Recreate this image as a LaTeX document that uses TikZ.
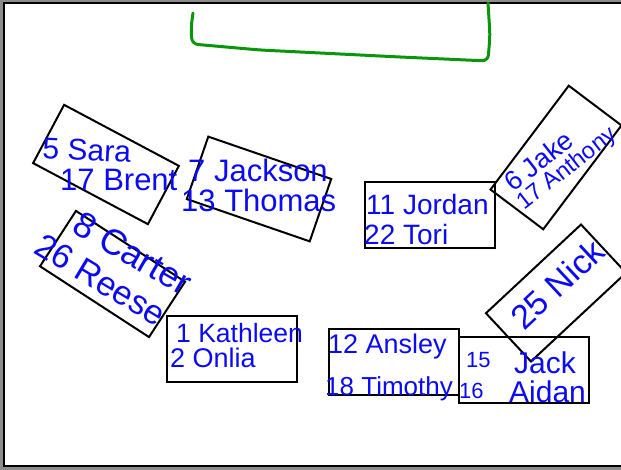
\documentclass[tikz,border=0pt]{standalone}
\usepackage{fontspec}
\setmainfont{Liberation Sans}
\usetikzlibrary{positioning}
\definecolor{Marker}{HTML}{0A0AF5}
\definecolor{Board}{HTML}{0A960A}
\definecolor{Shade}{HTML}{8C8C8C}
\newcommand{\hand}[1]{\fontsize{#1}{#1}\selectfont}

\begin{document}
\begin{tikzpicture}[x=1pt,y=-1pt,
    desk/.style={draw=black,line width=2pt,minimum width=130pt,minimum height=66pt,inner sep=0pt},
    kid/.style={anchor=base west,text=Marker,inner sep=0pt,font=\hand{28}}]
    \useasboundingbox (0,0) rectangle (621,470);
    \clip (0,0) rectangle (621,470);

    % frame of the board
    \draw[Shade,line width=3pt] (640,1.5) -- (1.5,1.5) -- (1.5,468.5) -- (640,468.5);
    \draw[black,line width=2pt] (640,3.5) -- (3.5,3.5) -- (3.5,465.5) -- (640,465.5);

    % front of the room
    \draw[Board,line width=3pt,line cap=round,line join=round,rounded corners=6pt]
      (193,13) -- (191,28) -- (192,44) -- (260,50) -- (400,57) -- (488,61) -- (490,35) -- (488,3);

    % desks
    \node[desk,rotate=-28] (sara) at (106,164.5) {};
    \node[desk,rotate=-19] (jackson) at (259,189) {};
    \node[desk,rotate=-33] (carter) at (112.5,274) {};
    \node[desk] (jordan) at (429.5,215) {};
    \node[desk,rotate=53] (jake) at (556,157.5) {};
    \node[desk,rotate=43] (nick) at (556,293) {};
    \node[desk] (kathleen) at (232,348.5) {};
    \node[desk] (ansley) at (394,362) {};
    \node[desk] (jack) at (523.5,370) {};

    % names
    \node[kid,font=\hand{30},rotate=-3] (sarat) at (42,158) {5 Sara};
    \node[kid,font=\hand{31}] (brentt) at (60,191) {17 Brent};
    \node[kid,font=\hand{31}] (jacksont) at (188,182) {7 Jackson};
    \node[kid,font=\hand{31}] (thomast) at (181,212) {13 Thomas};
    \node[kid,font=\hand{36},rotate=-30] (cartert) at (70,231) {8 Carter};
    \node[kid,font=\hand{34},rotate=-31] (reeset) at (32,252) {26 Reese};
    \node[kid] (jordant) at (366,215) {11 Jordan};
    \node[kid] (torit) at (364,245) {22 Tori};
    \node[kid,font=\hand{27},rotate=38] (jaket) at (513,193) {6 Jake};
    \node[kid,font=\hand{23.5},rotate=38] (anthonyt) at (524,211) {17 Anthony};
    \node[kid,font=\hand{34},rotate=43] (nickt) at (524,332) {25 Nick};
    \node[kid,font=\hand{26.5}] (kathleent) at (176,342) {1 Kathleen};
    \node[kid,font=\hand{27}] (onliat) at (170,367) {2 Onlia};
    \node[kid,font=\hand{27}] (ansleyt) at (328,353) {12 Ansley};
    \node[kid,font=\hand{26}] (timothyt) at (325,395) {18 Timothy};
    \node[kid,font=\hand{22}] (seat15) at (466,367) {15};
    \node[kid,font=\hand{22}] (seat16) at (459,398) {16};
    \node[kid,font=\hand{30}] (jackt) at (514,373) {Jack};
    \node[kid,font=\hand{30}] (aidant) at (509,402) {Aidan};
\end{tikzpicture}
\end{document}
